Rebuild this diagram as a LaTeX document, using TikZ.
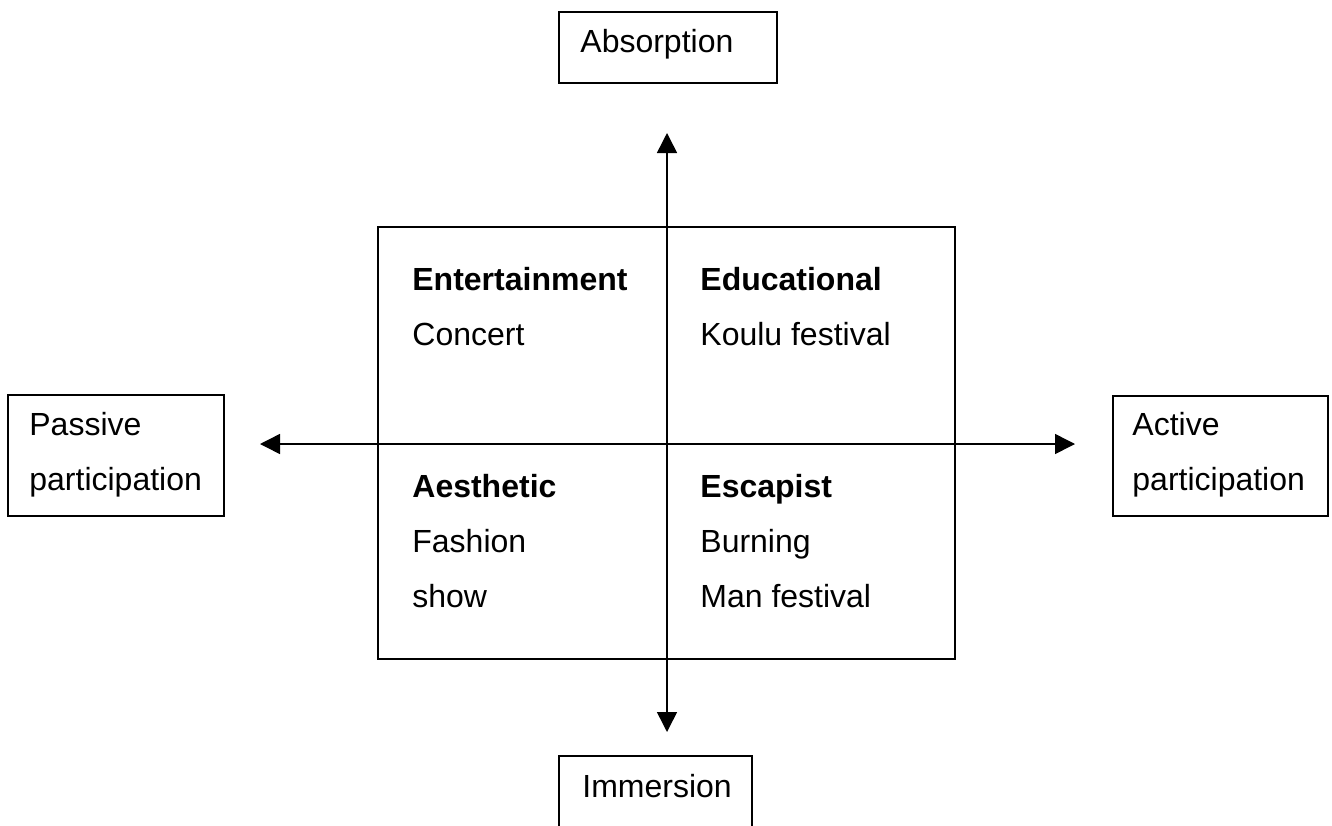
\documentclass[tikz,border=0pt]{standalone}
\usepackage{fontspec}
\setmainfont{Liberation Sans}
\usetikzlibrary{arrows.meta}
\begin{document}
\begin{tikzpicture}[x=0.5pt,y=-0.5pt,
  box/.style={draw, line width=1pt, inner sep=0pt, rectangle},
  lbl/.style={anchor=base west, inner sep=0pt, font=\fontsize{16pt}{19pt}\selectfont},
  hd/.style={anchor=base west, inner sep=0pt, font=\fontsize{16pt}{19pt}\selectfont\bfseries},
  axis/.style={line width=0.75pt, {Triangle[length=10pt,width=10pt]}-{Triangle[length=10pt,width=10pt]}}]
\useasboundingbox (0,0) rectangle (1332,825);
\clip (0,0) rectangle (1332,825);
% boxes
\node[box, minimum width=109pt, minimum height=35.5pt] (absorption) at (668,47.5) {};
\node[box, minimum width=96.5pt, minimum height=52pt] (immersion) at (655.5,808) {};
\node[box, minimum width=108pt, minimum height=60.5pt] (passive) at (116,455.5) {};
\node[box, minimum width=107.5pt, minimum height=60pt] (active) at (1220.5,456) {};
\node[box, minimum width=288.5pt, minimum height=216pt] (grid) at (666.5,443) {};
% box labels
\node[lbl] (tabs) at (580,52) {Absorption};
\node[lbl] (timm) at (582,797) {Immersion};
\node[lbl] (tpas1) at (29,435) {Passive};
\node[lbl] (tpas2) at (29,490) {participation};
\node[lbl] (tact1) at (1132,435) {Active};
\node[lbl] (tact2) at (1132,490) {participation};
% quadrant texts
\node[hd] (q1h) at (412,290) {Entertainment};
\node[lbl] (q1a) at (412,345) {Concert};
\node[hd] (q2h) at (700,290) {Educational};
\node[lbl] (q2a) at (700,345) {Koulu festival};
\node[hd] (q3h) at (412,497) {Aesthetic};
\node[lbl] (q3a) at (412,552) {Fashion};
\node[lbl] (q3b) at (412,607) {show};
\node[hd] (q4h) at (700,497) {Escapist};
\node[lbl] (q4a) at (700,552) {Burning};
\node[lbl] (q4b) at (700,607) {Man festival};
% axes
\coordinate (tipN) at (667,133);
\coordinate (tipS) at (667,732);
\coordinate (tipW) at (260,444);
\coordinate (tipE) at (1075,444);
\draw[axis] (tipS) -- (tipN);
\draw[axis] (tipW) -- (tipE);
\end{tikzpicture}
\end{document}
